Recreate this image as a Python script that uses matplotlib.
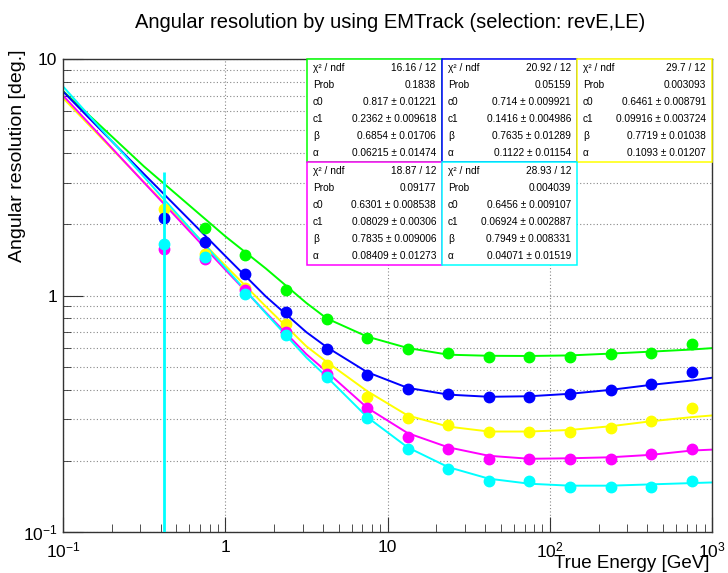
import numpy as np
import matplotlib
matplotlib.use("Agg")
import matplotlib.pyplot as plt
from matplotlib.patches import Rectangle
from matplotlib.ticker import FixedLocator, FixedFormatter, LogLocator, NullFormatter

plt.rcParams["font.family"] = ["Liberation Sans", "DejaVu Sans"]
plt.rcParams["mathtext.fontset"] = "custom"
plt.rcParams["mathtext.rm"] = "Liberation Sans"
plt.rcParams["mathtext.it"] = "Liberation Sans:italic"

FIG_W, FIG_H = 728, 573

# bin centres [GeV]
energy = [0.42, 0.75, 1.33, 2.37, 4.22, 7.5, 13.3, 23.7, 42.2, 75, 133, 237, 422, 750]

# angular resolution [deg.] per selection
res_green = [np.nan, 1.93, 1.49, 1.05, 0.792, 0.660, 0.593, 0.570, 0.552, 0.552, 0.552, 0.565, 0.573, 0.625]
res_blue = [2.12, 1.68, 1.227, 0.85, 0.595, 0.463, 0.403, 0.384, 0.374, 0.374, 0.384, 0.397, 0.423, 0.474]
res_yellow = [2.33, 1.50, 1.078, 0.755, 0.506, 0.374, 0.304, 0.284, 0.264, 0.264, 0.264, 0.276, 0.294, 0.335]
res_magenta = [1.576, 1.43, 1.05, 0.70, 0.467, 0.335, 0.253, 0.224, 0.204, 0.204, 0.204, 0.204, 0.214, 0.224]
res_cyan = [1.654, 1.45, 1.017, 0.68, 0.454, 0.304, 0.224, 0.185, 0.164, 0.164, 0.155, 0.155, 0.155, 0.164]

# only the first cyan point has a visible error bar
cyan_err_low = [1.60, 0, 0, 0, 0, 0, 0, 0, 0, 0, 0, 0, 0, 0]
cyan_err_up = [1.68, 0, 0, 0, 0, 0, 0, 0, 0, 0, 0, 0, 0, 0]

# fitted curves
fit_energy = [0.1, 0.316, 1.0, 1.78, 3.16, 4.22, 7.5, 13.3, 23.7, 42.2, 75, 133, 237, 422, 750, 1000]
fit_green = [7.33, 3.51, 1.78, 1.30, 0.93, 0.80, 0.67, 0.60, 0.562, 0.556, 0.555, 0.558, 0.568, 0.579, 0.591, 0.599]
fit_blue = [7.29, 3.26, 1.47, 0.99, 0.70, 0.605, 0.474, 0.407, 0.381, 0.373, 0.375, 0.384, 0.399, 0.419, 0.437, 0.449]
fit_yellow = [6.84, 3.01, 1.34, 0.898, 0.61, 0.524, 0.394, 0.311, 0.279, 0.266, 0.266, 0.270, 0.280, 0.294, 0.306, 0.311]
fit_magenta = [7.01, 3.00, 1.287, 0.847, 0.565, 0.476, 0.335, 0.262, 0.228, 0.210, 0.204, 0.205, 0.207, 0.212, 0.221, 0.223]
fit_cyan = [7.66, 3.17, 1.31, 0.841, 0.547, 0.453, 0.306, 0.228, 0.188, 0.168, 0.160, 0.157, 0.157, 0.159, 0.161, 0.162]

# fit statistics (green, blue, yellow, magenta, cyan)
stat_chi2 = ["16.16 / 12", "20.92 / 12", "29.7 / 12", "18.87 / 12", "28.93 / 12"]
stat_prob = ["0.1838", "0.05159", "0.003093", "0.09177", "0.004039"]
stat_c0 = ["0.817 ± 0.01221", "0.714 ± 0.009921", "0.6461 ± 0.008791", "0.6301 ± 0.008538", "0.6456 ± 0.009107"]
stat_c1 = ["0.2362 ± 0.009618", "0.1416 ± 0.004986", "0.09916 ± 0.003724", "0.08029 ± 0.00306", "0.06924 ± 0.002887"]
stat_beta = ["0.6854 ± 0.01706", "0.7635 ± 0.01289", "0.7719 ± 0.01038", "0.7835 ± 0.009006", "0.7949 ± 0.008331"]
stat_alpha = ["0.06215 ± 0.01474", "0.1122 ± 0.01154", "0.1093 ± 0.01207", "0.08409 ± 0.01273", "0.04071 ± 0.01519"]
stat_names = ["χ² / ndf", "Prob", "c0", "c1", "β", "α"]

COLORS = {
    "green": "#00ff00",
    "blue": "#0000ff",
    "yellow": "#ffff00",
    "magenta": "#ff00ff",
    "cyan": "#00ffff",
}


def px_to_fig(x, y):
    return x / FIG_W, 1 - y / FIG_H


fig = plt.figure(figsize=(FIG_W / 100, FIG_H / 100), dpi=100)
left, top = px_to_fig(63, 59)
right, bottom = px_to_fig(712, 532)
ax = fig.add_axes([left, bottom, right - left, top - bottom])

ax.set_xscale("log")
ax.set_yscale("log")
ax.set_xlim(0.1, 1000)
ax.set_ylim(0.1, 10)

ax.grid(True, which="major", axis="x", linestyle=(0, (1, 2)), color="#888888", lw=0.8, zorder=0)
ax.grid(True, which="both", axis="y", linestyle=(0, (1, 2)), color="#888888", lw=0.8, zorder=0)

series = [
    ("green", res_green, fit_green),
    ("yellow", res_yellow, fit_yellow),
    ("magenta", res_magenta, fit_magenta),
    ("blue", res_blue, fit_blue),
    ("cyan", res_cyan, fit_cyan),
]
for z, (name, res, fit) in enumerate(series):
    ax.plot(fit_energy, fit, color=COLORS[name], lw=1.4, zorder=2 + z * 0.1)
for z, (name, res, fit) in enumerate(series):
    ax.plot(energy, res, "o", color=COLORS[name], ms=7.5, mec=COLORS[name], zorder=3 + z * 0.1)

ax.errorbar(energy, res_cyan, yerr=[cyan_err_low, cyan_err_up], fmt="none",
            ecolor=COLORS["cyan"], elinewidth=2.0, capsize=0, zorder=4)

ax.xaxis.set_major_locator(FixedLocator([0.1, 1, 10, 100, 1000]))
ax.xaxis.set_major_formatter(FixedFormatter(["$10^{-1}$", "1", "10", "$10^{2}$", "$10^{3}$"]))
ax.xaxis.set_minor_locator(LogLocator(base=10, subs=np.arange(2, 10)))
ax.xaxis.set_minor_formatter(NullFormatter())
ax.yaxis.set_major_locator(FixedLocator([0.1, 1, 10]))
ax.yaxis.set_major_formatter(FixedFormatter(["$10^{-1}$", "1", "10"]))
ax.yaxis.set_minor_locator(LogLocator(base=10, subs=np.arange(2, 10)))
ax.yaxis.set_minor_formatter(NullFormatter())

ax.tick_params(which="both", direction="in", top=False, right=False, color="#333333", labelsize=12.5)
ax.tick_params(axis="x", which="major", length=10.8, pad=6)
ax.tick_params(axis="x", which="minor", length=5.5)
ax.tick_params(axis="y", which="major", length=14.4, pad=4)
ax.tick_params(axis="y", which="minor", length=6)
for sp in ax.spines.values():
    sp.set_color("#333333")
    sp.set_linewidth(1.0)

x, y = px_to_fig(390, 22)
fig.text(x, y, "Angular resolution by using EMTrack (selection: revE,LE)",
         ha="center", va="center", fontsize=14.5)
x, y = px_to_fig(18, 50)
fig.text(x, y, "Angular resolution [deg.]", rotation=90, ha="center", va="top", fontsize=14)
x, y = px_to_fig(710, 563)
fig.text(x, y, "True Energy [GeV]", ha="right", va="center", fontsize=13.5)

# stats boxes
box_pos = [(307, 59), (442, 59), (577, 59), (307, 162), (442, 162)]
box_color = ["green", "blue", "yellow", "magenta", "cyan"]
box_w, box_h = 135, 103
for i, (bx, by) in enumerate(box_pos):
    x0, y0 = px_to_fig(bx, by + box_h)
    rect = Rectangle((x0, y0), box_w / FIG_W, box_h / FIG_H, transform=fig.transFigure,
                     facecolor="white", edgecolor=COLORS[box_color[i]], lw=1.1, zorder=10)
    fig.add_artist(rect)
    values = [stat_chi2[i], stat_prob[i], stat_c0[i], stat_c1[i], stat_beta[i], stat_alpha[i]]
    for row, (name, val) in enumerate(zip(stat_names, values)):
        ry = by + (row + 0.5) * box_h / 6
        lx, ly = px_to_fig(bx + 6, ry)
        fig.text(lx, ly, name, ha="left", va="center", fontsize=7.3, zorder=11)
        vx, vy = px_to_fig(bx + box_w - 6, ry)
        fig.text(vx, vy, val, ha="right", va="center", fontsize=7.3, zorder=11)

fig.savefig("out.png", dpi=100)
